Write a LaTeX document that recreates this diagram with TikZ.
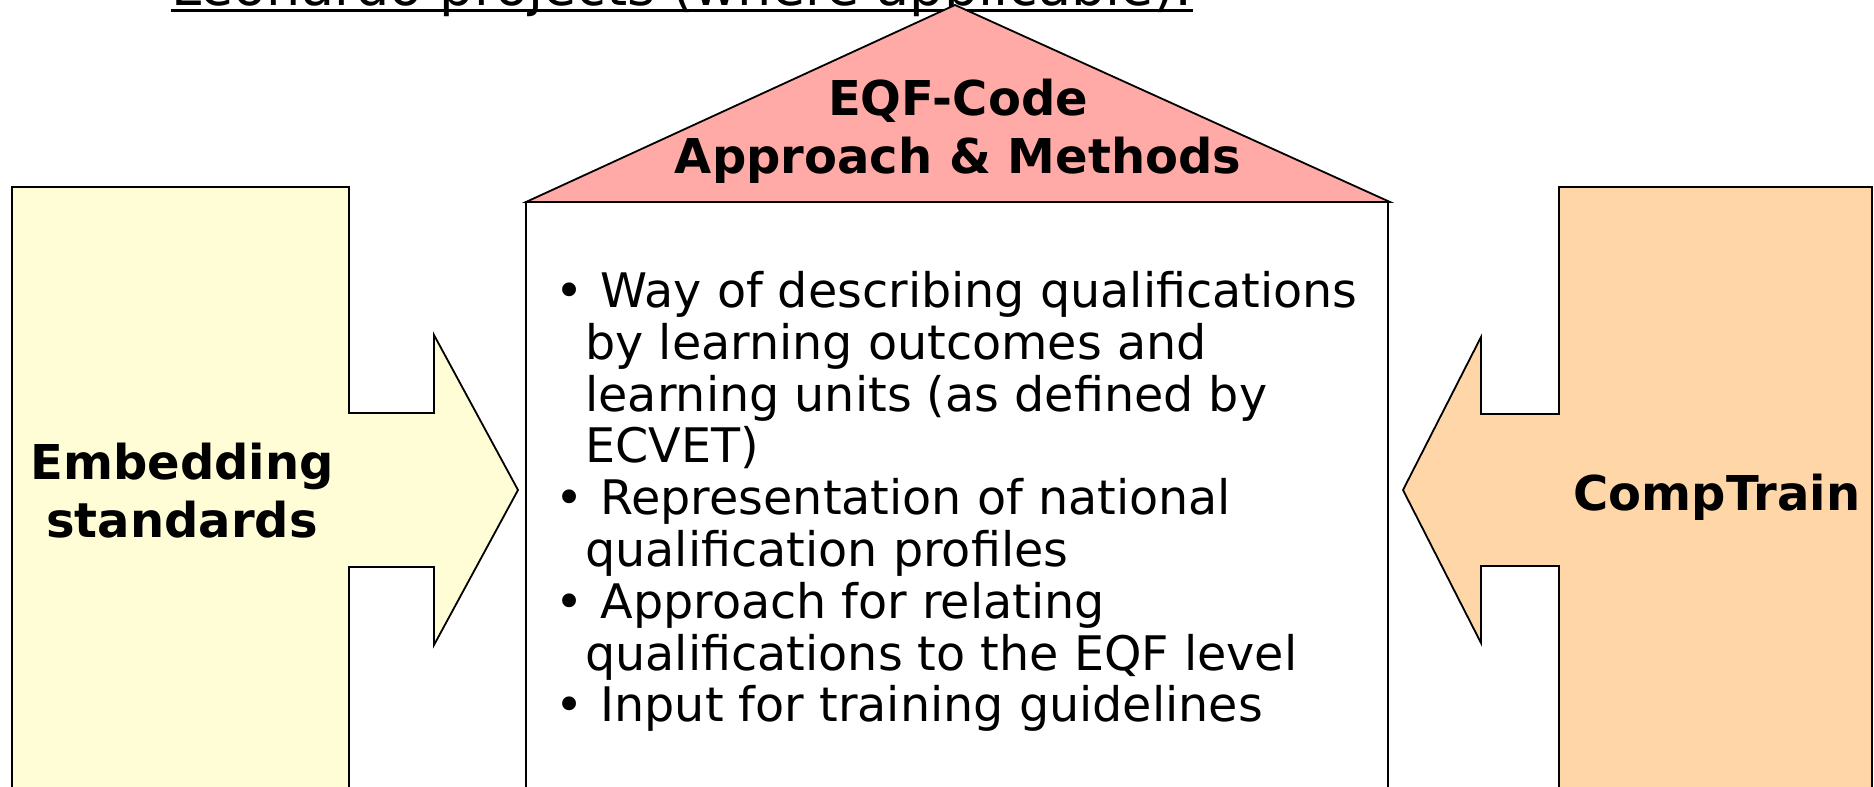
\documentclass[tikz,border=0pt]{standalone}
\usepackage{fontspec}
\setmainfont{DejaVu Sans}
\usepackage{tikz}
\usetikzlibrary{positioning}
\definecolor{embedyellow}{HTML}{FFFDD6}
\definecolor{comppeach}{HTML}{FED6A8}
\definecolor{eqfpink}{HTML}{FFAAA6}

\begin{document}
\begin{tikzpicture}[x=0.5pt, y=-0.5pt]
                    \tikzstyle{every node}=[inner sep=0pt]
                    \tikzstyle{frame} = [draw=black, line width=0.9pt, line join=miter]
                    \tikzstyle{heading} = [font=\fontsize{24}{29}\selectfont\bfseries, align=center]
                    \tikzstyle{item} = [font=\fontsize{23.8}{26}\selectfont, anchor=base west]

                    \useasboundingbox (0,0) rectangle (1874,787);

                    % title line, cut off at the top
                    \node[font=\fontsize{27}{30}\selectfont, anchor=base west](title) at (171,5) {Leonardo projects (where applicable):};
                    \draw[line width=1.5pt] ([yshift=-2.5pt]title.base west) -- ([yshift=-2.5pt]title.base east);

                    % side boxes with arrows
                    \draw[frame, fill=embedyellow] (12,187) -- (349,187) -- (349,413) -- (434,413) -- (434,335) -- (518,490) -- (434,645) -- (434,567) -- (349,567) -- (349,800) -- (12,800) -- cycle;
                    \draw[frame, fill=comppeach] (1872,187) -- (1559,187) -- (1559,414) -- (1481,414) -- (1481,337) -- (1403,490) -- (1481,643) -- (1481,566) -- (1559,566) -- (1559,800) -- (1872,800) -- cycle;

                    % house in the middle
                    \draw[frame, fill=white] (526,202) rectangle (1388,800);
                    \draw[frame, fill=eqfpink] (526,202) -- (955,5) -- (1390,202) -- cycle;

                    \node[heading](eqf) at (958,131) {EQF-Code\\Approach \& Methods};
                    \node[heading](embed) at (182,491) {Embedding\\standards};
                    \node[heading](comp) at (1717,497) {CompTrain};

                    \node[item](l1) at (555,307) {\textbullet\hspace{8.5pt}Way of describing qualifications};
                    \node[item](l2) at (585,359) {by learning outcomes and};
                    \node[item](l3) at (585,411) {learning units (as defined by};
                    \node[item](l4) at (585,462) {ECVET)};
                    \node[item](l5) at (555,514) {\textbullet\hspace{8.5pt}Representation of national};
                    \node[item](l6) at (585,566) {qualification profiles};
                    \node[item](l7) at (555,618) {\textbullet\hspace{8.5pt}Approach for relating};
                    \node[item](l8) at (585,670) {qualifications to the EQF level};
                    \node[item](l9) at (555,721) {\textbullet\hspace{8.5pt}Input for training guidelines};

\end{tikzpicture}
\end{document}
